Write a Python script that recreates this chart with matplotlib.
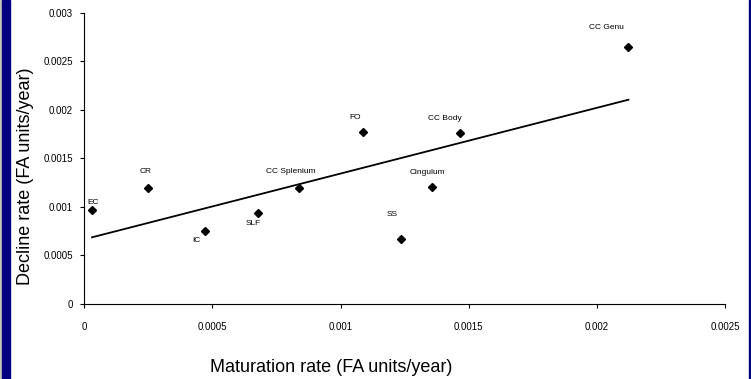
import numpy as np
import matplotlib.pyplot as plt
from matplotlib.patches import Rectangle
from matplotlib.ticker import FuncFormatter

plt.rcParams['font.family'] = ['Liberation Sans', 'DejaVu Sans']

# tract values
tracts = ['EC', 'CR', 'IC', 'SLF', 'CC Splenium', 'FO', 'CC Body', 'Cingulum', 'SS', 'CC Genu']
maturation = [0.00003, 0.000249, 0.000469, 0.000677, 0.000838, 0.001087, 0.001467, 0.001356, 0.001237, 0.002123]
decline = [0.00097, 0.0012, 0.000756, 0.00094, 0.0012, 0.001776, 0.00176, 0.00121, 0.000667, 0.002653]
# label offsets (pixels) from each point
label_dx = [1, -3, -8, -5, -8, -8, -15, -4, -9, -22]
label_dy = [7, 16, -10, -11, 16, 14, 15, 14, 25, 19]

x = np.array(maturation)
y = np.array(decline)

fig = plt.figure(figsize=(7.51, 3.79), dpi=100)
ax = fig.add_axes([0.1123, 0.1979, 0.8531, 0.7678])

ax.plot(x, y, 'D', color='black', ms=4)

# linear trend line
slope, icpt = np.polyfit(x, y, 1)
xs = np.array([x.min(), x.max()])
ax.plot(xs, slope * xs + icpt, color='black', lw=1.3)

for i, name in enumerate(tracts):
    ax.annotate(name, (x[i], y[i]), xytext=(label_dx[i], label_dy[i]),
                textcoords='offset pixels', ha='center', va='center', fontsize=6)

ax.set_xlim(0, 0.0025)
ax.set_ylim(0, 0.003)
ax.set_xticks(np.arange(0, 0.00251, 0.0005))
ax.set_yticks(np.arange(0, 0.00301, 0.0005))
fmt = FuncFormatter(lambda v, p: '%g' % round(v, 6))
ax.xaxis.set_major_formatter(fmt)
ax.yaxis.set_major_formatter(fmt)
ax.tick_params(labelsize=7, length=3, width=0.8, direction='out', pad=5)
ax.tick_params(axis='x', pad=10)
ax.spines['top'].set_visible(False)
ax.spines['right'].set_visible(False)
for s in ['left', 'bottom']:
    ax.spines[s].set_linewidth(0.8)

fig.text(25 / 751, 1 - 176 / 379, 'Decline rate (FA units/year)', rotation=90,
         ha='center', va='center', fontsize=13)
fig.text(331 / 751, 1 - 368 / 379, 'Maturation rate (FA units/year)',
         ha='center', va='center', fontsize=13)

# slide borders
fig.patches.append(Rectangle((0, 0), 2 / 751, 1, transform=fig.transFigure,
                             color='#c8c8b8', zorder=-1))
fig.patches.append(Rectangle((2 / 751, 0), 8 / 751, 1, transform=fig.transFigure,
                             color='#000080', zorder=-1))
fig.patches.append(Rectangle((749 / 751, 0), 2 / 751, 1, transform=fig.transFigure,
                             color='#000080', zorder=-1))

fig.savefig('out.png', dpi=100)
